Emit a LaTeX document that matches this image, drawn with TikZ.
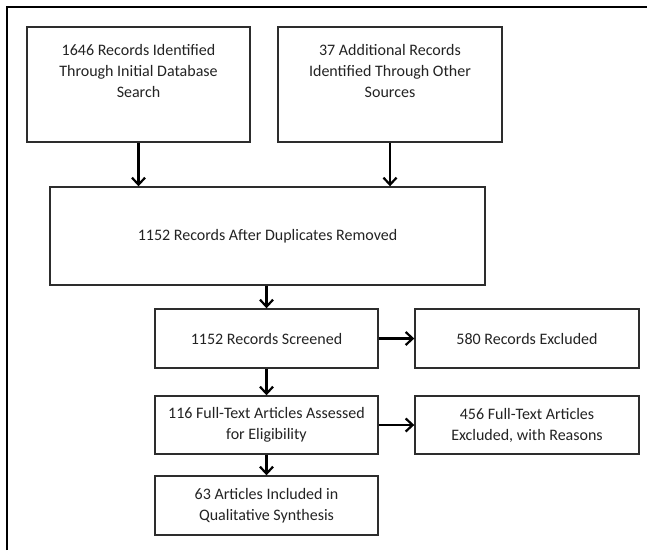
\documentclass[tikz,border=0pt]{standalone}
\usepackage{fontspec}
\setmainfont{Carlito}
\usetikzlibrary{arrows.meta}
\definecolor{boxline}{RGB}{45,45,45}
\definecolor{boxtext}{RGB}{35,35,35}
\tikzset{
  stagebox/.style={draw=boxline, line width=1.4pt, align=center, inner sep=0pt,
    text=boxtext, font=\fontsize{16}{21}\selectfont},
  flow/.style={line width=2.2pt, -{Straight Barb[length=7pt,width=13pt,line width=2.2pt]}}
}
\begin{document}
\begin{tikzpicture}[x=1pt,y=-1pt]
\useasboundingbox (0,0) rectangle (647,550);
\fill[white] (0,0) rectangle (647,550);
\draw[line width=2pt] (7,550) -- (7,7) -- (647,7);

\node[stagebox, minimum width=223, minimum height=115] (n1) at (138.5,84.5) {1646 Records Identified\\Through Initial Database\\Search\\\strut};
\node[stagebox, minimum width=224, minimum height=115] (n2) at (390,84.5) {37 Additional Records\\Identified Through Other\\Sources\\\strut};
\node[stagebox, minimum width=435, minimum height=98] (n3) at (267.5,236) {1152 Records After Duplicates Removed};
\node[stagebox, minimum width=223, minimum height=59] (n4) at (266.5,338.5) {1152 Records Screened};
\node[stagebox, minimum width=224, minimum height=59] (n5) at (527,338.5) {580 Records Excluded};
\node[stagebox, minimum width=223, minimum height=58] (n6) at (266.5,425) {116 Full-Text Articles Assessed\\for Eligibility};
\node[stagebox, minimum width=224, minimum height=58] (n7) at (527,425) {456 Full-Text Articles\\Excluded, with Reasons};
\node[stagebox, minimum width=223, minimum height=59] (n8) at (266.5,505.5) {63 Articles Included in\\Qualitative Synthesis};

\draw[flow] (n1.south) -- (n1.south |- n3.north);
\draw[flow] (n2.south) -- (n2.south |- n3.north);
\draw[flow] (n4.north |- n3.south) -- (n4.north);
\draw[flow] (n4) -- (n5);
\draw[flow] (n4) -- (n6);
\draw[flow] (n6) -- (n7);
\draw[flow] (n6) -- (n8);
\end{tikzpicture}
\end{document}
